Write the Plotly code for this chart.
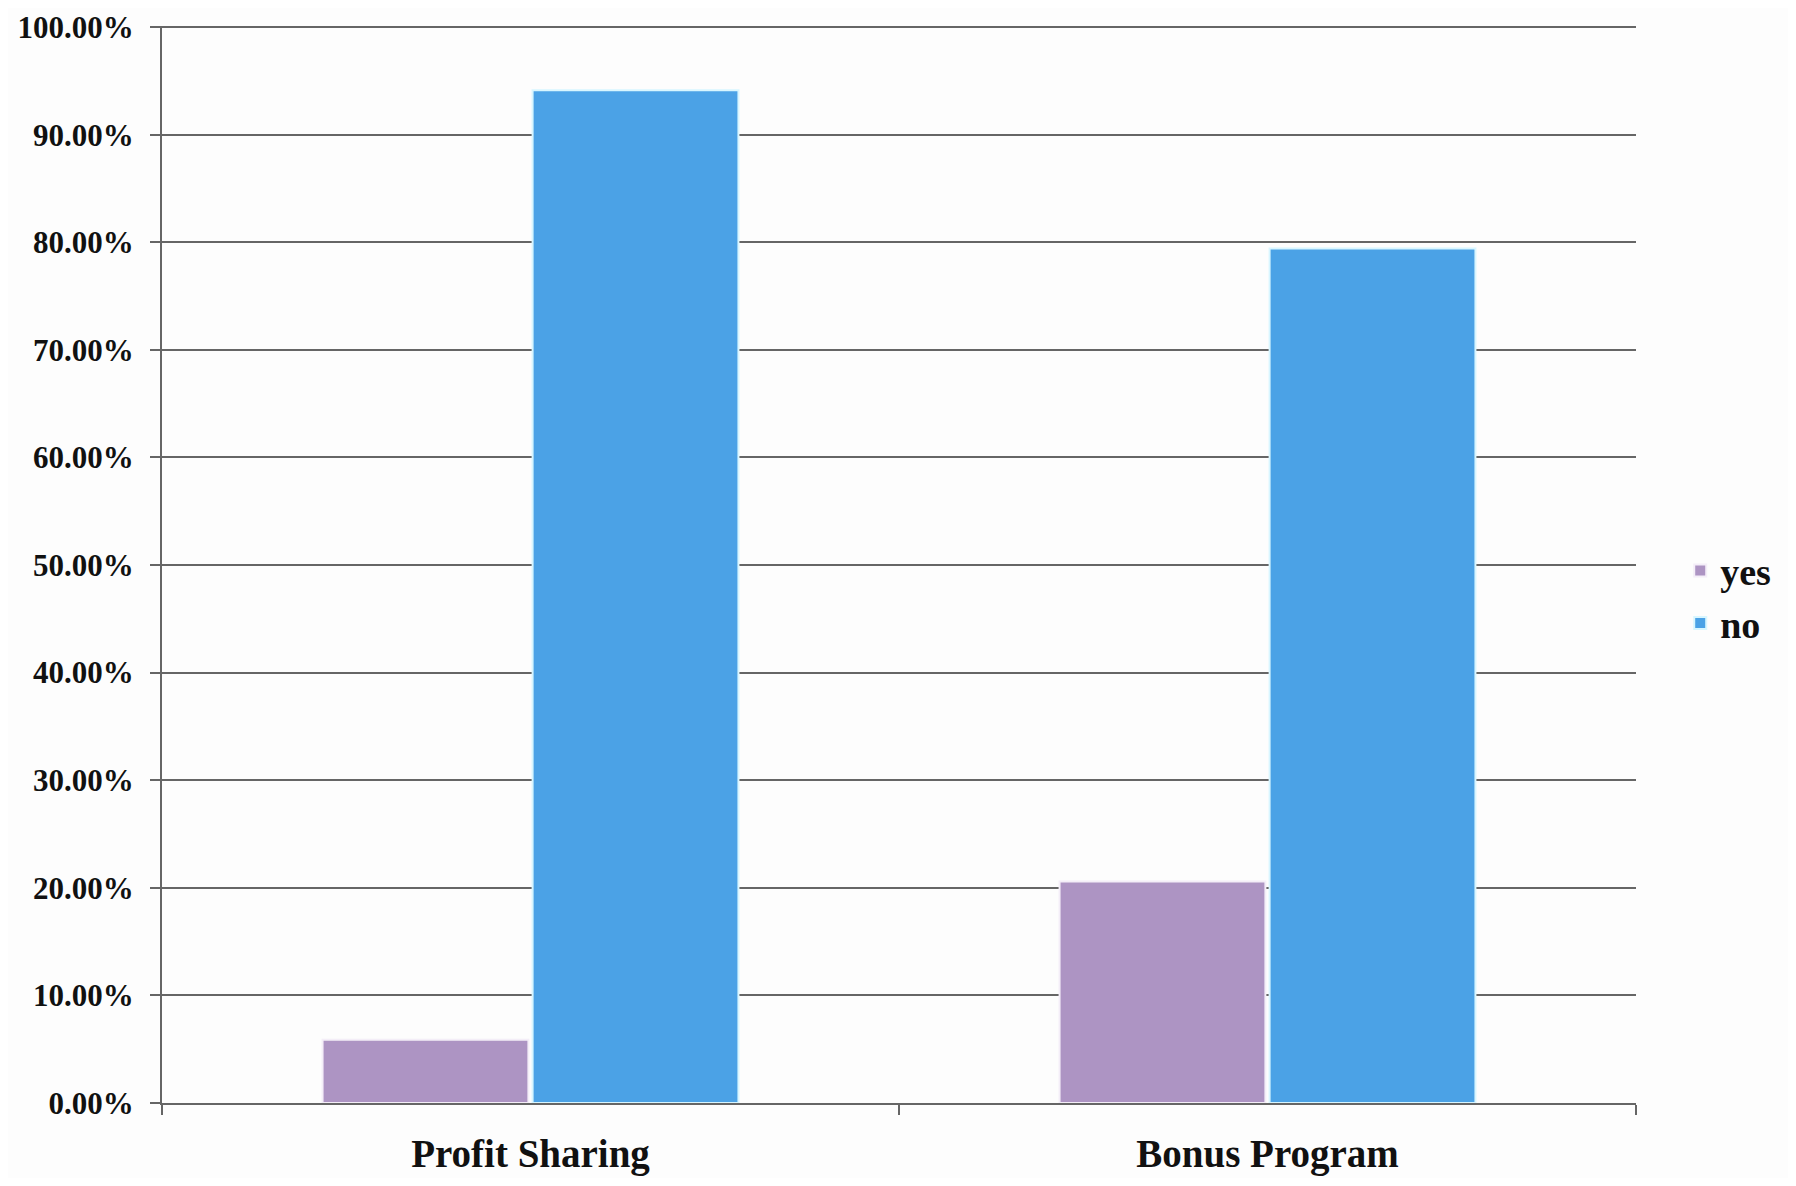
import plotly.graph_objects as go

categories = ["Profit Sharing", "Bonus Program"]
yes_values = [5.88, 20.59]
no_values = [94.12, 79.41]
tick_values = [0, 10, 20, 30, 40, 50, 60, 70, 80, 90, 100]

FONT = "Liberation Serif"

fig = go.Figure()
fig.add_trace(go.Bar(
    name="yes", x=categories, y=yes_values,
    marker=dict(color="#ad94c3", line=dict(color="#f4eef8", width=2)),
))
fig.add_trace(go.Bar(
    name="no", x=categories, y=no_values,
    marker=dict(color="#4ba2e6", line=dict(color="#d8f6ff", width=2)),
))

# page body adds 8px, so the figure is a bit smaller than the window
fig.update_layout(
    width=1780, height=1170,
    margin=dict(l=154, r=145, t=18, b=75),
    paper_bgcolor="#fdfdfd", plot_bgcolor="#fdfdfd",
    barmode="group", bargap=0.43, bargroupgap=0.02,
    font=dict(family=FONT, color="#111111"),
    showlegend=True,
    legend=dict(
        x=1.03, y=0.47, xanchor="left", yanchor="middle",
        font=dict(family=FONT, size=38, color="#111111", weight="bold"),
        tracegroupgap=20, bgcolor="rgba(0,0,0,0)",
    ),
)
fig.update_xaxes(
    type="category", showgrid=False, automargin=False,
    showline=True, linecolor="#666666", linewidth=2,
    ticks="outside", tickson="boundaries", ticklen=10, tickcolor="#666666", tickwidth=2,
    ticklabelstandoff=15,
    tickfont=dict(family=FONT, size=39, color="#111111", weight="bold"),
)
fig.update_yaxes(
    range=[0, 100.1], tickvals=tick_values, automargin=False,
    ticktext=[f"{v:.2f}%" for v in tick_values],
    showgrid=True, gridcolor="#666666", gridwidth=2,
    showline=True, linecolor="#666666", linewidth=2,
    ticks="outside", ticklen=10, tickcolor="#666666", tickwidth=2,
    ticklabelstandoff=10, ticklabeloverflow="allow",
    tickfont=dict(family=FONT, size=31, color="#111111", weight="bold"),
    zeroline=False,
)

fig.write_html("out.html")
